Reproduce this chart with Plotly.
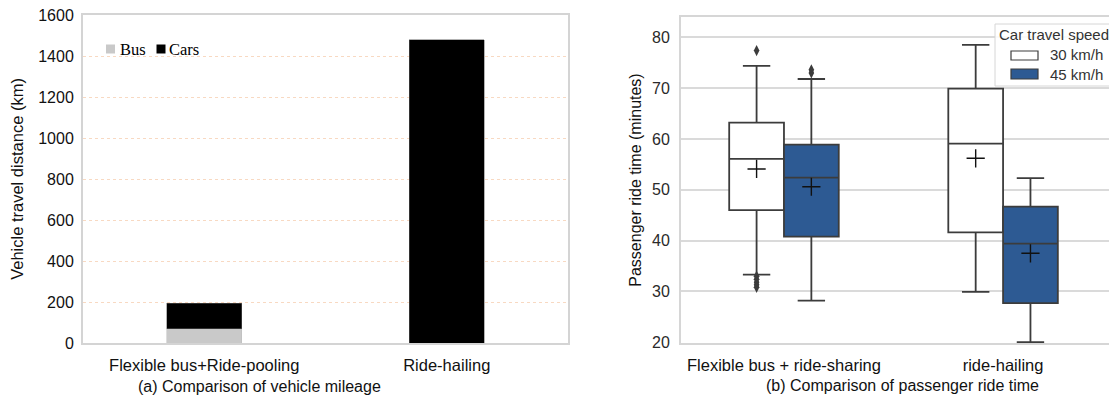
import plotly.graph_objects as go

# ---------------- data: panel (a) ----------------
mileage_categories = ["Flexible bus+Ride-pooling", "Ride-hailing"]
bus_km = [70, 0]
cars_km = [125, 1480]

# ---------------- data: panel (b) ----------------
ride_categories = ["Flexible bus + ride-sharing", "ride-hailing"]
speeds = ["30 km/h", "45 km/h"]
q1 = {"30 km/h": [46.0, 41.6], "45 km/h": [40.8, 27.7]}
median = {"30 km/h": [56.1, 59.1], "45 km/h": [52.4, 39.4]}
q3 = {"30 km/h": [63.2, 69.9], "45 km/h": [58.9, 46.7]}
lower_whisker = {"30 km/h": [33.3, 29.9], "45 km/h": [28.2, 20.0]}
upper_whisker = {"30 km/h": [74.4, 78.5], "45 km/h": [71.8, 52.3]}
means = {"30 km/h": [54.1, 56.2], "45 km/h": [50.6, 37.5]}
outliers = {
    "30 km/h": [[77.4, 33.0, 32.4, 31.8, 31.3, 30.8], []],
    "45 km/h": [[73.6, 73.0], []],
}

# page is offset by the default 8px body margin
OFF = 8
W, H = 1117 - OFF, 399 - OFF
def px(x):
    return (x - OFF) / W
def py(y):
    return 1 - (y - OFF) / H

BOX_W = 0.25
offsets = {"30 km/h": -BOX_W / 2, "45 km/h": BOX_W / 2}
fills = {"30 km/h": "white", "45 km/h": "#2d5a93"}
edge = "#3c3c3c"
FONT = "Liberation Sans, Arial, sans-serif"

fig = go.Figure()

# panel (a) stacked bars
fig.add_trace(go.Bar(x=list(range(len(mileage_categories))), y=bus_km, width=0.31,
                     marker=dict(color="#c9c9c9", line=dict(color="#bbbbbb", width=0.5)),
                     xaxis="x", yaxis="y", showlegend=False, name="Bus"))
fig.add_trace(go.Bar(x=list(range(len(mileage_categories))), y=cars_km, width=0.31,
                     marker=dict(color="black", line=dict(color="#666666", width=0.5)),
                     xaxis="x", yaxis="y", showlegend=False, name="Cars"))

# panel (b) boxes
for s in speeds:
    xs = [i + offsets[s] for i in range(len(ride_categories))]
    fig.add_trace(go.Box(
        x=xs, q1=q1[s], median=median[s], q3=q3[s],
        lowerfence=lower_whisker[s], upperfence=upper_whisker[s],
        width=BOX_W, whiskerwidth=0.5, fillcolor=fills[s],
        line=dict(color=edge, width=1.8), boxpoints=False,
        xaxis="x2", yaxis="y2", showlegend=False, name=s))
    fig.add_trace(go.Scatter(
        x=xs, y=means[s], mode="markers",
        marker=dict(symbol="cross-thin", size=13, line=dict(color="#111111", width=1.4)),
        xaxis="x2", yaxis="y2", showlegend=False, hoverinfo="skip"))
    ox, oy = [], []
    for i, vals in enumerate(outliers[s]):
        for v in vals:
            ox.append(i + offsets[s])
            oy.append(v)
    fig.add_trace(go.Scatter(
        x=ox, y=oy, mode="markers",
        marker=dict(symbol="diamond-tall", size=8, color=edge, line=dict(width=0)),
        xaxis="x2", yaxis="y2", showlegend=False, hoverinfo="skip"))

shapes = []
annotations = []

# legend (a)
shapes.append(dict(type="rect", xref="paper", yref="paper", x0=px(106), x1=px(115),
                   y0=py(53.5), y1=py(44.5), fillcolor="#c9c9c9", line=dict(width=0)))
shapes.append(dict(type="rect", xref="paper", yref="paper", x0=px(156.5), x1=px(165.5),
                   y0=py(53.5), y1=py(44.5), fillcolor="black", line=dict(width=0)))
annotations.append(dict(text="Bus", xref="paper", yref="paper", x=px(118), y=py(49),
                        xanchor="left", yanchor="middle", showarrow=False,
                        font=dict(family="Liberation Serif, Times New Roman, serif", size=16.5, color="black")))
annotations.append(dict(text="Cars", xref="paper", yref="paper", x=px(167), y=py(49),
                        xanchor="left", yanchor="middle", showarrow=False,
                        font=dict(family="Liberation Serif, Times New Roman, serif", size=16.5, color="black")))

# legend (b)
shapes.append(dict(type="rect", xref="paper", yref="paper", x0=px(995), x1=px(1114),
                   y0=py(86), y1=py(24), fillcolor="rgba(255,255,255,0.85)",
                   line=dict(color="#d6d6d6", width=1)))
shapes.append(dict(type="rect", xref="paper", yref="paper", x0=px(1011), x1=px(1038),
                   y0=py(60), y1=py(51), fillcolor="white", line=dict(color=edge, width=1.2)))
shapes.append(dict(type="rect", xref="paper", yref="paper", x0=px(1011), x1=px(1038),
                   y0=py(79), y1=py(69), fillcolor=fills["45 km/h"], line=dict(color=edge, width=1.2)))
annotations.append(dict(text="Car travel speed", xref="paper", yref="paper", x=px(1054), y=py(35),
                        xanchor="center", yanchor="middle", showarrow=False,
                        font=dict(family=FONT, size=15, color="#333333")))
for s, yy in zip(speeds, [55, 74]):
    annotations.append(dict(text=s, xref="paper", yref="paper", x=px(1048), y=py(yy),
                            xanchor="left", yanchor="middle", showarrow=False,
                            font=dict(family=FONT, size=15, color="#333333")))

# subtitles
annotations.append(dict(text="(a) Comparison of vehicle mileage", xref="paper", yref="paper",
                        x=px(259), y=py(386), xanchor="center", yanchor="middle", showarrow=False,
                        font=dict(family=FONT, size=16, color="#111111")))
annotations.append(dict(text="(b) Comparison of passenger ride time", xref="paper", yref="paper",
                        x=px(902), y=py(385), xanchor="center", yanchor="middle", showarrow=False,
                        font=dict(family=FONT, size=16, color="#111111")))

fig.update_layout(
    width=W, height=H, margin=dict(l=0, r=0, t=0, b=0, autoexpand=False),
    paper_bgcolor="white", plot_bgcolor="white",
    barmode="stack", showlegend=False,
    font=dict(family=FONT, size=16, color="#111111"),
    shapes=shapes, annotations=annotations,
    xaxis=dict(domain=[px(83), px(568)], range=[-0.5, 1.5], anchor="y", automargin=False,
               tickvals=list(range(len(mileage_categories))), ticktext=mileage_categories,
               showline=True, linecolor="#d4d4d4", linewidth=2, mirror=True,
               showgrid=False, zeroline=False, ticks="", ticklabelstandoff=6,
               tickfont=dict(size=16.5, color="#111111")),
    yaxis=dict(domain=[py(343), py(15)], range=[0, 1600], dtick=200, anchor="x", automargin=False,
               showline=True, linecolor="#d4d4d4", linewidth=2, mirror=True,
               showgrid=True, gridcolor="rgba(240,170,120,0.45)", griddash="dot", gridwidth=1,
               zeroline=False, ticks="", ticklabelstandoff=4, ticklabeloverflow="allow",
               tickfont=dict(size=16, color="#111111"),
               title=dict(text="Vehicle travel distance (km)", standoff=11,
                          font=dict(size=16.5, color="#111111"))),
    xaxis2=dict(domain=[px(681), 1.0], range=[-0.47, 1.52], anchor="y2", automargin=False,
                tickvals=list(range(len(ride_categories))), ticktext=ride_categories,
                showline=True, linecolor="#d6d6d6", linewidth=2, mirror=True,
                showgrid=False, zeroline=False, ticks="", ticklabelstandoff=6,
                tickfont=dict(size=16.5, color="#111111")),
    yaxis2=dict(domain=[py(343), py(17)], range=[19.85, 84.0], dtick=10, anchor="x2", automargin=False,
                showline=True, linecolor="#d6d6d6", linewidth=2, mirror=False,
                showgrid=True, gridcolor="#dadada", gridwidth=1.5,
                zeroline=False, ticks="", ticklabelstandoff=6, ticklabeloverflow="allow",
                tickfont=dict(size=16, color="#2a2a2a"),
                title=dict(text="Passenger ride time (minutes)", standoff=6,
                           font=dict(size=16, color="#111111"))),
)

fig.write_html("out.html")
